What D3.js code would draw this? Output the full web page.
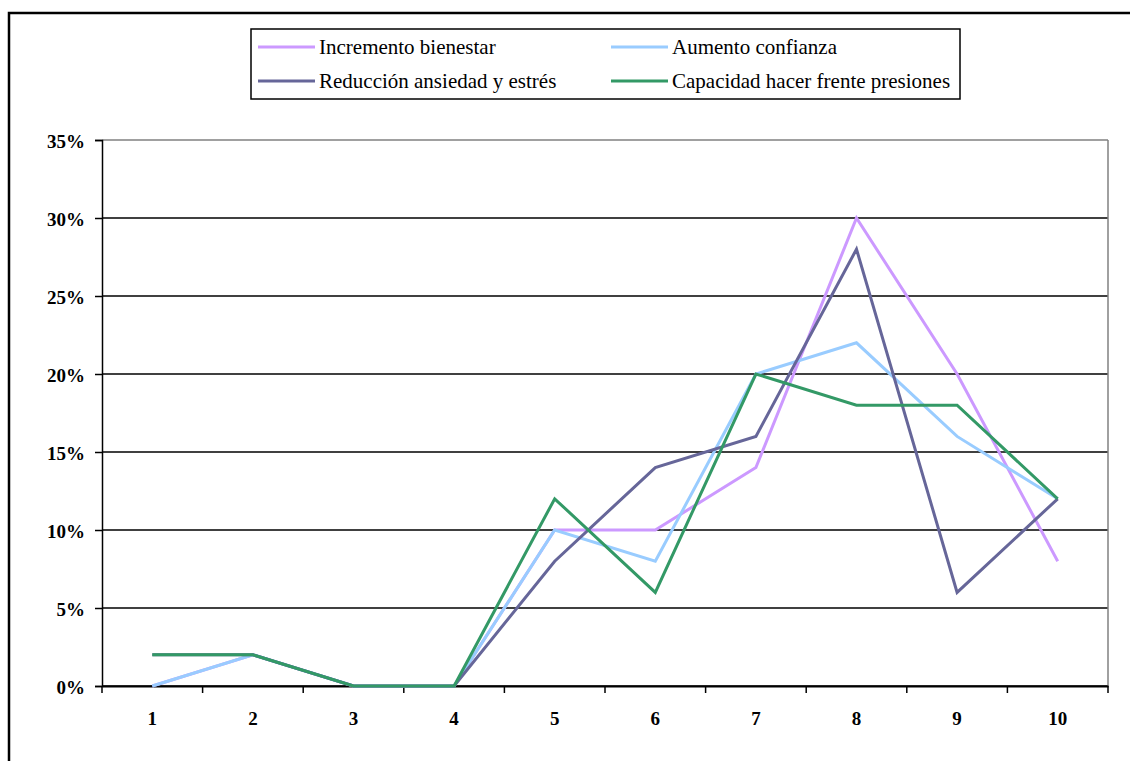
<!DOCTYPE html>
<html>
<head>
<meta charset="utf-8">
<script src="https://cdn.jsdelivr.net/npm/d3@7"></script>
<style>
    body { margin: 0; background: #fff; }
    svg { display: block; font-family: "Liberation Serif", "Times New Roman", serif; }
    .yAxis text, .xAxis text { font-family: "Liberation Serif", "Times New Roman", serif; font-weight: bold; font-size: 19px; fill: #000; }
    .legend text { font-size: 21px; fill: #000; }
</style>
</head>
<body>
<div id="chart"></div>
<script>
// chart data
var categories = ["1", "2", "3", "4", "5", "6", "7", "8", "9", "10"];
var seriesNames = ["Incremento bienestar", "Aumento confianza", "Reducción ansiedad y estrés", "Capacidad hacer frente presiones"];
var bienestar = [0, 2, 0, 0, 10, 10, 14, 30, 20, 8];
var confianza = [0, 2, 0, 0, 10, 8, 20, 22, 16, 12];
var ansiedad = [2, 2, 0, 0, 8, 14, 16, 28, 6, 12];
var presiones = [2, 2, 0, 0, 12, 6, 20, 18, 18, 12];
var yTicks = [0, 5, 10, 15, 20, 25, 30, 35];
var seriesColors = ["#cc99ff", "#99ccff", "#666699", "#339966"];

function init() {
    var w = 1130;
    var h = 761;
    var left = 102, right = 1108, top = 140, bottom = 686;

    var svg = d3.select("#chart")
        .append("svg")
        .attr("width", w)
        .attr("height", h);

    // outer frame (only top and left show in the picture)
    svg.append("path")
        .attr("d", "M9," + h + " V13 H" + w)
        .attr("stroke", "#000")
        .attr("stroke-width", 2.5)
        .attr("fill", "none");

    var xScale = d3.scaleBand()
        .domain(categories)
        .range([left, right]);

    var yScale = d3.scaleLinear()
        .domain([0, 35])
        .range([bottom, top]);

    // gridlines
    yTicks.forEach(function (v) {
        svg.append("line")
            .attr("x1", left)
            .attr("x2", right)
            .attr("y1", yScale(v))
            .attr("y2", yScale(v))
            .attr("stroke", v == 35 ? "#808080" : "#000")
            .attr("stroke-width", 1.5);
    });

    // right border of plot
    svg.append("line")
        .attr("x1", right).attr("x2", right)
        .attr("y1", top).attr("y2", bottom)
        .attr("stroke", "#808080")
        .attr("stroke-width", 1.5);

    // y axis
    var yAxis = d3.axisLeft(yScale)
        .tickValues(yTicks)
        .tickSize(7)
        .tickPadding(10)
        .tickFormat(function (d) { return d + "%"; });

    svg.append("g")
        .attr("class", "yAxis")
        .attr("transform", "translate(" + left + ",0)")
        .call(yAxis)
        .call(function (g) {
            g.attr("font-family", null);
            g.select(".domain").attr("stroke-width", 1.5);
            g.selectAll("line").attr("stroke-width", 1.5);
            g.selectAll("text").attr("dy", "0.4em");
        });

    // x axis: labels centered, ticks on the category boundaries
    var xAxis = d3.axisBottom(xScale)
        .tickSize(0)
        .tickPadding(26);

    svg.append("g")
        .attr("class", "xAxis")
        .attr("transform", "translate(0," + bottom + ")")
        .call(xAxis)
        .call(function (g) {
            g.attr("font-family", null);
            g.select(".domain").attr("stroke-width", 2);
        });

    var bounds = categories.map(function (c) { return xScale(c); }).concat([right]);
    svg.selectAll(".xTick")
        .data(bounds)
        .enter()
        .append("line")
        .attr("class", "xTick")
        .attr("x1", function (d) { return d; })
        .attr("x2", function (d) { return d; })
        .attr("y1", bottom)
        .attr("y2", bottom + 7)
        .attr("stroke", "#000")
        .attr("stroke-width", 1.5);

    // lines
    var allSeries = [bienestar, confianza, ansiedad, presiones];
    var line = d3.line()
        .x(function (d, i) { return xScale(categories[i]) + xScale.bandwidth() / 2; })
        .y(function (d) { return yScale(d); });

    allSeries.forEach(function (values, i) {
        svg.append("path")
            .datum(values)
            .attr("d", line)
            .attr("stroke", seriesColors[i])
            .attr("stroke-width", 3)
            .attr("fill", "none");
    });

    // legend
    var legend = svg.append("g").attr("class", "legend");
    legend.append("rect")
        .attr("x", 251)
        .attr("y", 29)
        .attr("width", 709)
        .attr("height", 70)
        .attr("fill", "#fff")
        .attr("stroke", "#000")
        .attr("stroke-width", 1.5);

    var legendItem = legend.selectAll(".legend-item")
        .data(seriesNames)
        .enter()
        .append("g")
        .attr("class", "legend-item")
        .attr("transform", function (d, i) {
            return "translate(" + (i % 2 == 0 ? 258 : 611) + "," + (i < 2 ? 47 : 81) + ")";
        });

    legendItem.append("line")
        .attr("x1", 0)
        .attr("x2", 57)
        .attr("stroke", function (d, i) { return seriesColors[i]; })
        .attr("stroke-width", 3);

    legendItem.append("text")
        .attr("x", 61)
        .attr("dy", "0.35em")
        .text(function (d) { return d; });
}

window.onload = init;
</script>
</body>
</html>
